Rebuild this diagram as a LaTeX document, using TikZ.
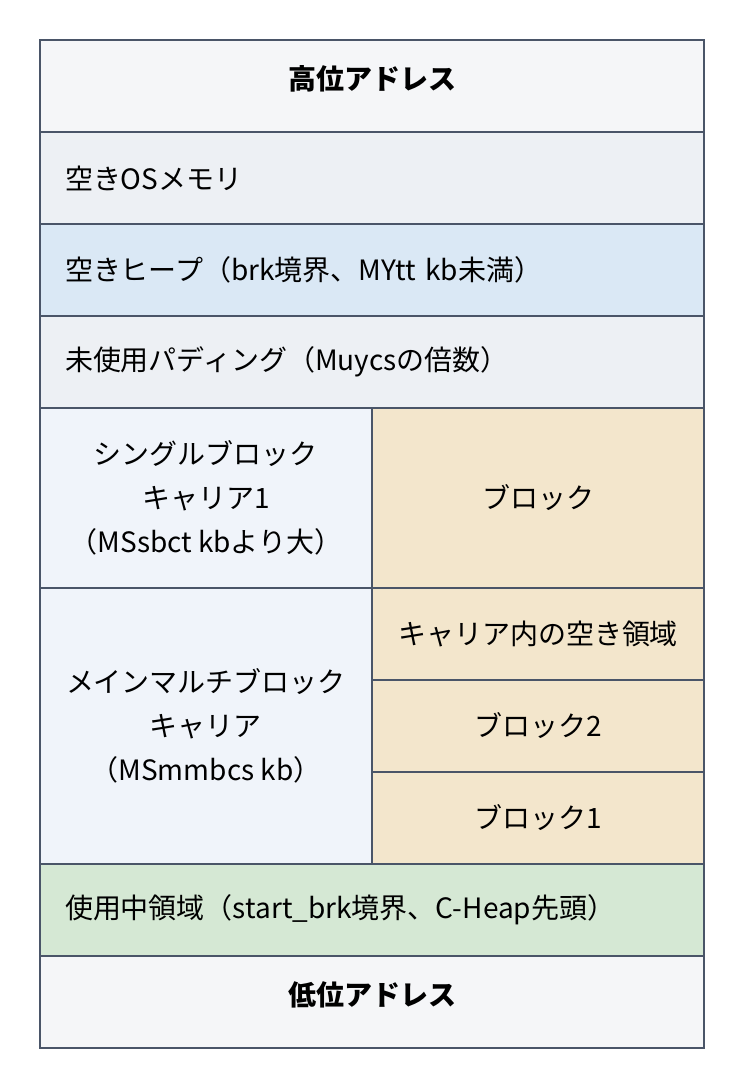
\documentclass[tikz,border=0pt]{standalone}
\usepackage{fontspec}
\setmainfont{Noto Sans CJK JP}
\usetikzlibrary{positioning}

\definecolor{edgegray}{HTML}{4A5568}
\definecolor{addrfill}{HTML}{F5F6F8}
\definecolor{osfill}{HTML}{EDF0F4}
\definecolor{heapfill}{HTML}{DAE8F5}
\definecolor{carrierfill}{HTML}{F0F4FA}
\definecolor{blockfill}{HTML}{F3E6CC}
\definecolor{usedfill}{HTML}{D5E8D4}

\begin{document}
\begin{tikzpicture}[x=0.5pt, y=-0.5pt,
  every node/.style={font=\fontsize{14}{22}\selectfont},
  cell/.style={draw=edgegray, line width=1pt, anchor=north west, inner sep=0pt, outer sep=0pt},
  wide/.style={cell, text width=307pt, inner xsep=12.5pt, minimum height=46pt, align=left},
  addr/.style={cell, minimum width=332pt, minimum height=46pt, text depth=8.5pt, fill=addrfill, font=\fontsize{14}{22}\selectfont\bfseries},
  half/.style={cell, minimum width=166pt, align=center}]
\useasboundingbox (0,0) rectangle (745,1089);

% address ends
\node[addr] (high) at (40,40) {高位アドレス};
\node[addr] (low) at (40,956) {低位アドレス};

% full width rows
\node[wide, fill=osfill] (osfree) at (40,132) {空きOSメモリ};
\node[wide, fill=heapfill] (heapfree) at (40,224) {空きヒープ（brk境界、MYtt kb未満）};
\node[wide, fill=osfill] (padding) at (40,316) {未使用パディング（Muycsの倍数）};
\node[wide, fill=usedfill] (inuse) at (40,864) {使用中領域（start\_brk境界、C-Heap先頭）};

% single block carrier
\node[half, fill=carrierfill, minimum height=90pt] (sbcarrier) at (40,408) {シングルブロック\\キャリア1\\（MSsbct kbより大）};
\node[half, fill=blockfill, minimum height=90pt] (sbblock) at (372,408) {ブロック};

% main multiblock carrier
\node[half, fill=carrierfill, minimum height=138pt] (mbcarrier) at (40,588) {メインマルチブロック\\キャリア\\（MSmmbcs kb）};
\node[half, fill=blockfill, minimum height=46pt] (mbfree) at (372,588) {キャリア内の空き領域};
\node[half, fill=blockfill, minimum height=46pt] (mbblocktwo) at (372,680) {ブロック2};
\node[half, fill=blockfill, minimum height=46pt] (mbblockone) at (372,772) {ブロック1};
\end{tikzpicture}
\end{document}
